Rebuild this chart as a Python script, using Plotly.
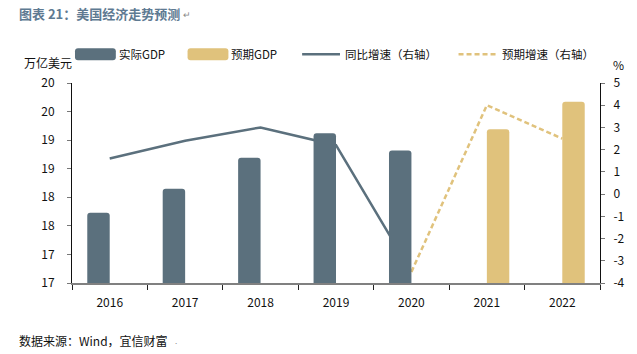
import plotly.graph_objects as go

years = ["2016", "2017", "2018", "2019", "2020", "2021", "2022"]
gdp_actual = [17.73, 18.15, 18.69, 19.12, 18.82, None, None]
gdp_forecast = [None, None, None, None, None, 19.19, 19.67]
growth_actual = [1.6, 2.4, 3.0, 2.2, -3.5, None, None]
growth_forecast = [None, None, None, None, -3.5, 4.0, 2.5]

left_tickvals = [16.5, 17, 17.5, 18, 18.5, 19, 19.5, 20]
left_ticktext = ["17", "17", "18", "18", "19", "19", "20", "20"]
right_tickvals = [-4, -3, -2, -1, 0, 1, 2, 3, 4, 5]
right_ticktext = ["-4", "-3", "-2", "-1", "0", "1", "2", "3", "4", "5"]

C_ACT = "#5B707D"
C_FC = "#E0C27C"
FONT = "Noto Sans CJK SC"
DASH = "5px,3px"

W, H = 637, 354
L, R, T, B = 72, 602, 82.7, 282.7

def px(x):
    return (x - L) / (R - L)

def py(y):
    return (B - y) / (B - T)

fig = go.Figure()

# lines on primary y (right side) -> drawn below bars
fig.add_trace(go.Scatter(x=years, y=growth_actual, mode="lines",
                         line=dict(color=C_ACT, width=2.5), yaxis="y",
                         showlegend=False, connectgaps=False))
fig.add_trace(go.Scatter(x=years, y=growth_forecast, mode="lines",
                         line=dict(color=C_FC, width=2.5, dash=DASH), yaxis="y",
                         showlegend=False, connectgaps=False))
# bars on overlaying y2 (left side)
fig.add_trace(go.Bar(x=years, y=gdp_actual, marker=dict(color=C_ACT, line=dict(width=0)),
                     yaxis="y2", showlegend=False))
fig.add_trace(go.Bar(x=years, y=gdp_forecast, marker=dict(color=C_FC, line=dict(width=0)),
                     yaxis="y2", showlegend=False))

fig.update_layout(
    width=W, height=H, autosize=False,
    margin=dict(l=L, r=W - R, t=T, b=H - B, pad=0),
    paper_bgcolor="white", plot_bgcolor="white",
    barmode="group", bargap=0.405, bargroupgap=0, barcornerradius=3,
    font=dict(family=FONT, size=12, color="#111"),
    xaxis=dict(type="category", showgrid=False, zeroline=False,
               showline=True, linecolor="#808080", linewidth=1.5,
               ticks="outside", tickson="boundaries", ticklen=5, tickcolor="#222",
               tickfont=dict(size=12, family=FONT), ticklabelstandoff=8),
    yaxis=dict(side="right", range=[-4, 5], tickvals=right_tickvals, ticktext=right_ticktext,
               showgrid=False, zeroline=False, showline=True, linecolor="#111", linewidth=1,
               ticks="outside", ticklen=4, tickcolor="#777",
               tickfont=dict(size=12, family=FONT), ticklabelstandoff=6),
    yaxis2=dict(side="left", overlaying="y", range=[16.5, 20],
                tickvals=left_tickvals, ticktext=left_ticktext,
                showgrid=False, zeroline=False, showline=True, linecolor="#111", linewidth=1,
                ticks="outside", ticklen=4, tickcolor="#777",
                tickfont=dict(size=12, family=FONT), ticklabelstandoff=10),
)

shapes = []
ann = []

# title
ann.append(dict(text="<b>图表 21：美国经济走势预测</b>", x=px(17), y=py(13), xref="paper", yref="paper",
                xanchor="left", yanchor="middle", showarrow=False,
                font=dict(size=13, color="#5E7A92", family=FONT)))
ann.append(dict(text="↵", x=px(181), y=py(14), xref="paper", yref="paper",
                xanchor="left", yanchor="middle", showarrow=False,
                font=dict(size=9, color="#888", family=FONT)))
# units
ann.append(dict(text="万亿美元", x=px(22), y=py(62), xref="paper", yref="paper",
                xanchor="left", yanchor="middle", showarrow=False,
                font=dict(size=12, color="#111", family=FONT)))
ann.append(dict(text="%", x=px(621), y=py(64), xref="paper", yref="paper",
                xanchor="center", yanchor="middle", showarrow=False,
                font=dict(size=12, color="#111", family=FONT)))

# legend
def rounded_rect(x0, x1, y0, y1, r=3):
    X0, X1 = px(x0), px(x1)
    Y0, Y1 = py(y1), py(y0)  # paper y: bottom, top
    rx = r / (R - L)
    ry = r / (B - T)
    return (f"M{X0+rx},{Y0} L{X1-rx},{Y0} Q{X1},{Y0} {X1},{Y0+ry} L{X1},{Y1-ry} "
            f"Q{X1},{Y1} {X1-rx},{Y1} L{X0+rx},{Y1} Q{X0},{Y1} {X0},{Y1-ry} "
            f"L{X0},{Y0+ry} Q{X0},{Y0} {X0+rx},{Y0} Z")

ly = 54
shapes.append(dict(type="path", xref="paper", yref="paper", path=rounded_rect(75, 116, ly - 6, ly + 6),
                   fillcolor=C_ACT, line=dict(width=0)))
shapes.append(dict(type="path", xref="paper", yref="paper", path=rounded_rect(188, 229, ly - 6, ly + 6),
                   fillcolor=C_FC, line=dict(width=0)))
shapes.append(dict(type="line", xref="paper", yref="paper", x0=px(303), x1=px(341),
                   y0=py(ly), y1=py(ly), line=dict(color=C_ACT, width=2.5)))
shapes.append(dict(type="line", xref="paper", yref="paper", x0=px(460), x1=px(499),
                   y0=py(ly), y1=py(ly), line=dict(color=C_FC, width=2.5, dash=DASH)))
for tx, x in [("实际GDP", 117), ("预期GDP", 230), ("同比增速（右轴）", 344), ("预期增速（右轴）", 502)]:
    ann.append(dict(text=tx, x=px(x), y=py(ly), xref="paper", yref="paper",
                    xanchor="left", yanchor="middle", showarrow=False,
                    font=dict(size=11.5, color="#111", family=FONT)))

# source
ann.append(dict(text="数据来源：Wind，宜信财富", x=px(17), y=py(340), xref="paper", yref="paper",
                xanchor="left", yanchor="middle", showarrow=False,
                font=dict(size=12, color="#111", family=FONT)))
ann.append(dict(text=".", x=px(173), y=py(340), xref="paper", yref="paper",
                xanchor="left", yanchor="middle", showarrow=False,
                font=dict(size=8, color="#888", family=FONT)))

fig.update_layout(shapes=shapes, annotations=ann)
fig.write_html("out.html")
